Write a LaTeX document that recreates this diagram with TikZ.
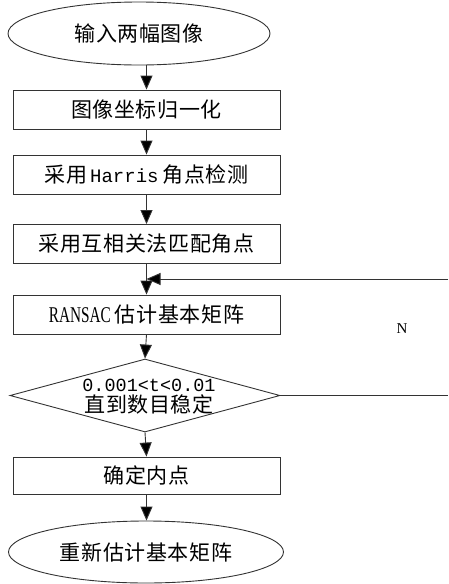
\documentclass[tikz,border=0pt]{standalone}
\usepackage{fontspec}
\usetikzlibrary{shapes.geometric,arrows.meta}
\newfontfamily\cjk[LetterSpace=3]{Noto Sans CJK SC}
\newfontfamily\lmono{Liberation Mono}
\newfontfamily\lserif[FakeStretch=0.68]{Liberation Serif}
\newfontfamily\nserif{Liberation Serif}
\definecolor{ln}{HTML}{333333}
\tikzset{
  base/.style={draw=ln, line width=0.9pt, inner sep=0pt, font=\cjk\fontsize{21}{22}\selectfont, text=black},
  procbox/.style={base, rectangle, minimum width=267pt, minimum height=39pt},
  termin/.style={base, ellipse},
  decide/.style={base, diamond, minimum width=270pt, minimum height=73pt},
  arr/.style={draw=ln, line width=0.9pt, -{Triangle[width=12pt,length=14pt,fill=black]}},
  plain/.style={draw=ln, line width=0.9pt}
}
\begin{document}
\begin{tikzpicture}[x=1pt,y=-1pt]
\useasboundingbox (0,0) rectangle (448,584);
\node[termin, minimum width=262pt, minimum height=63pt] (e1) at (139,33.5) {输入两幅图像};
\node[procbox] (b1) at (146.5,109.5) {图像坐标归一化};
\node[procbox] (b2) at (146.5,174.5) {采用\hspace{3pt}{\lmono\fontsize{19}{22}\selectfont Harris}\hspace{4pt}角点检测};
\node[procbox] (b3) at (146.5,244) {采用互相关法匹配角点};
\node[procbox] (b4) at (146.5,314.5) {{\lserif\fontsize{22.5}{22}\selectfont RANSAC}\hspace{4pt}估计基本矩阵};
\node[decide] (d) at (145,395.5) {};
\node[font=\cjk\fontsize{21}{21}\selectfont, align=center, inner sep=0pt] (dt) at (149,397) {{\lmono\fontsize{18.5}{21}\selectfont 0.001<t<0.01}\\直到数目稳定};
\node[procbox, minimum height=37pt] (b5) at (146.5,475.5) {确定内点};
\node[termin, minimum width=275pt, minimum height=62pt] (e2) at (146,552) {\raisebox{-5pt}{重新估计基本矩阵}};
\node[font=\nserif\fontsize{15}{15}\selectfont, inner sep=0pt] (n) at (402,329) {N};
\coordinate (fbR) at (448,279);
\coordinate (dR) at (448,395.5);

\draw[arr] (e1.south -| b1.north) -- (b1.north);
\draw[arr] (b1) -- (b2);
\draw[arr] (b2) -- (b3);
\draw[arr] (b3) -- (b4);
\draw[arr] (b4.south) -- (d.north);
\draw[arr] (d.south) -- (b5.north);
\draw[arr] (b5.south) -- (b5.south |- e2.north);
\draw[arr] (fbR) -- (fbR -| b3.south);
\draw[plain] (d.east) -- (dR);
\end{tikzpicture}
\end{document}
